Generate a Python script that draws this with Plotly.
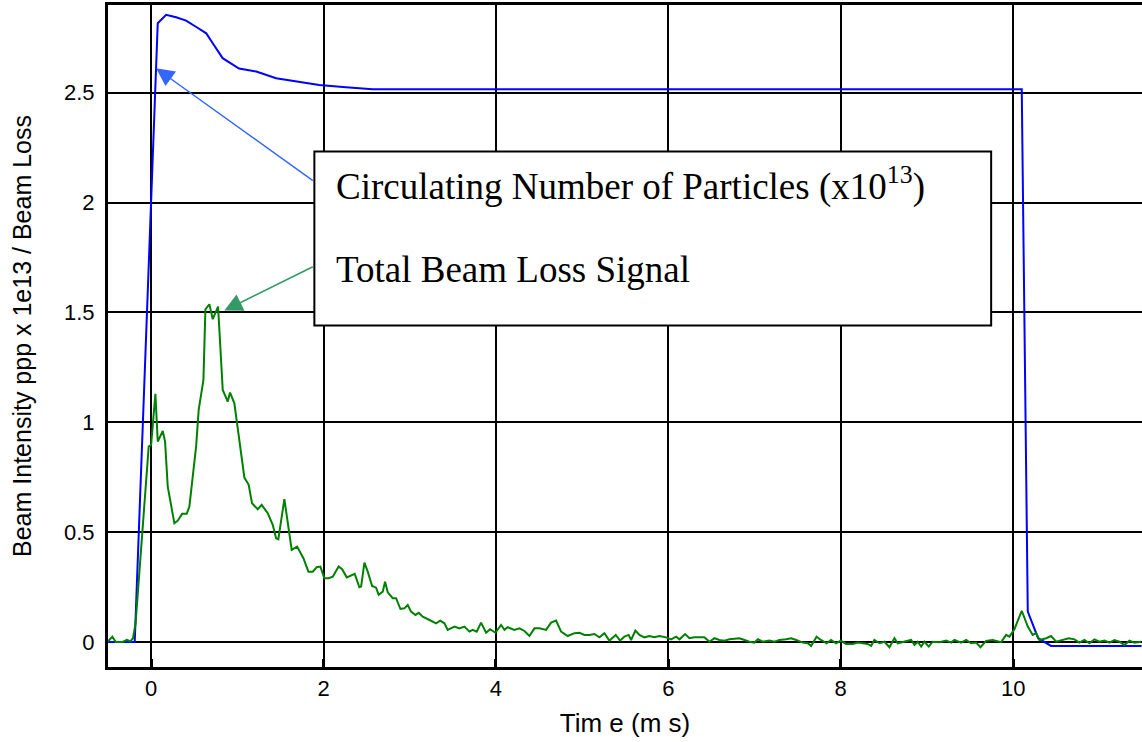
import plotly.graph_objects as go

# circulating number of particles (x1e13) vs time (ms)
blue_x = [-0.5, -0.19, 0.077, 0.174, 0.29, 0.406, 0.52, 0.64, 0.715, 0.83,
          1.02, 1.22, 1.45, 1.72, 1.95, 2.26, 2.57, 10.10, 10.17, 10.29,
          10.44, 11.49]
blue_y = [0, 0, 2.816, 2.854, 2.843, 2.828, 2.80, 2.77, 2.725, 2.657,
          2.61, 2.596, 2.566, 2.55, 2.535, 2.525, 2.516, 2.516, 0.138, 0.017,
          -0.018, -0.018]

# total beam loss signal
green_x = [-0.503, -0.45, -0.41, -0.33, -0.28, -0.24, -0.21, -0.18, -0.028, 0.0,
           0.05, 0.077, 0.135, 0.162, 0.193, 0.27, 0.309, 0.36, 0.413, 0.444,
           0.522, 0.552, 0.607, 0.63, 0.676, 0.715, 0.777, 0.831, 0.889, 0.916,
           0.966, 1.024, 1.082, 1.132, 1.171, 1.237, 1.283, 1.353, 1.411, 1.45,
           1.476, 1.546, 1.631, 1.694, 1.767, 1.825, 1.875, 1.921, 1.964, 2.01,
           2.06, 2.107, 2.176, 2.216, 2.27, 2.362, 2.416, 2.436, 2.475, 2.513,
           2.564, 2.61, 2.64, 2.687, 2.714, 2.745, 2.803, 2.842, 2.892, 2.938,
           2.977, 3.016, 3.066, 3.105, 3.151, 3.229, 3.306, 3.353, 3.403, 3.44,
           3.52, 3.577, 3.635, 3.693, 3.73, 3.777, 3.828, 3.886, 3.933, 3.994,
           4.06, 4.099, 4.137, 4.215, 4.273, 4.331, 4.389, 4.447, 4.505, 4.582,
           4.64, 4.698, 4.756, 4.833, 4.911, 4.969, 5.027, 5.085, 5.143, 5.201,
           5.259, 5.316, 5.39, 5.44, 5.49, 5.54, 5.568, 5.618, 5.665, 5.722,
           5.78, 5.838, 5.896, 5.974, 6.032, 6.09, 6.13, 6.195, 6.245, 6.303,
           6.419, 6.477, 6.535, 6.593, 6.651, 6.709, 6.825, 6.883, 6.94, 6.998,
           7.04, 7.095, 7.173, 7.23, 7.289, 7.367, 7.425, 7.483, 7.56, 7.617,
           7.656, 7.72, 7.77, 7.837, 7.888, 7.946, 8.0, 8.062, 8.14, 8.197,
           8.255, 8.313, 8.353, 8.39, 8.45, 8.507, 8.565, 8.623, 8.661, 8.739,
           8.817, 8.855, 8.893, 8.933, 8.971, 9.021, 9.067, 9.145, 9.223, 9.281,
           9.319, 9.397, 9.455, 9.513, 9.571, 9.621, 9.687, 9.763, 9.822, 9.861,
           9.919, 9.957, 10.015, 10.1, 10.17, 10.227, 10.267, 10.305, 10.383, 10.44,
           10.499, 10.575, 10.645, 10.711, 10.769, 10.827, 10.885, 10.943, 11.0, 11.06,
           11.118, 11.175, 11.233, 11.291, 11.349, 11.407, 11.485]
green_y = [0.0, 0.024, 0.0, 0.0, 0.01, 0.003, 0.017, 0.085, 0.889, 0.897,
           1.129, 0.912, 0.96, 0.912, 0.707, 0.54, 0.552, 0.583, 0.583, 0.616,
           0.889, 1.056, 1.193, 1.514, 1.537, 1.469, 1.526, 1.147, 1.094, 1.135,
           1.086, 0.919, 0.748, 0.715, 0.631, 0.604, 0.624, 0.586, 0.533, 0.472,
           0.467, 0.65, 0.419, 0.434, 0.381, 0.32, 0.32, 0.34, 0.343, 0.29,
           0.29, 0.297, 0.343, 0.331, 0.294, 0.31, 0.249, 0.252, 0.361, 0.32,
           0.255, 0.247, 0.214, 0.229, 0.274, 0.226, 0.199, 0.199, 0.15, 0.153,
           0.168, 0.138, 0.123, 0.133, 0.115, 0.1, 0.085, 0.097, 0.085, 0.055,
           0.07, 0.062, 0.07, 0.047, 0.055, 0.047, 0.088, 0.042, 0.058, 0.042,
           0.077, 0.055, 0.067, 0.055, 0.062, 0.05, 0.027, 0.062, 0.062, 0.055,
           0.088, 0.097, 0.047, 0.027, 0.04, 0.042, 0.032, 0.032, 0.036, 0.021,
           0.04, 0.006, 0.032, 0.006, 0.024, 0.032, 0.009, 0.052, 0.032, 0.021,
           0.027, 0.021, 0.027, 0.021, 0.012, 0.024, 0.012, 0.036, 0.017, 0.021,
           0.021, 0.001, 0.017, 0.009, 0.006, 0.012, 0.017, 0.009, 0.001, -0.003,
           0.012, 0.001, 0.006, 0.001, 0.009, 0.012, 0.017, 0.009, -0.003, -0.006,
           -0.018, 0.024, 0.009, -0.006, 0.009, -0.006, 0.006, -0.009, -0.009, -0.003,
           -0.006, -0.009, -0.018, 0.009, -0.006, 0.001, -0.024, 0.017, -0.006, 0.001,
           0.009, -0.014, 0.001, -0.021, 0.001, -0.021, 0.001, -0.001, 0.006, -0.003,
           0.009, -0.003, 0.009, -0.006, -0.003, -0.024, 0.005, 0.009, 0.005, -0.001,
           0.032, 0.024, 0.058, 0.142, 0.07, 0.032, 0.04, 0.009, 0.017, 0.027,
           0.001, 0.009, 0.017, 0.012, -0.003, 0.009, -0.006, 0.012, 0.001, 0.006,
           -0.003, 0.009, 0.001, -0.014, 0.006, -0.003, 0.001]

x_ticks = [0, 2, 4, 6, 8, 10]
y_ticks = [0, 0.5, 1, 1.5, 2, 2.5]
y_tick_text = ["0", "0.5", "1", "1.5", "2", "2.5"]

label_circ = "Circulating Number of Particles (x10<sup>13</sup>)"
label_loss = "Total Beam Loss Signal"

fig = go.Figure()

fig.add_trace(
    go.Scatter(
        x=blue_x,
        y=blue_y,
        mode="lines",
        line=dict(color="#0000ff", width=2),
        showlegend=False,
    )
)

fig.add_trace(
    go.Scatter(
        x=green_x,
        y=green_y,
        mode="lines",
        line=dict(color="#008000", width=2),
        showlegend=False,
    )
)

# label box
fig.add_shape(
    type="rect",
    x0=1.894, x1=9.745, y0=1.44, y1=2.232,
    xref="x", yref="y",
    line=dict(color="black", width=2),
    fillcolor="white",
    layer="above",
)

serif = dict(family="Liberation Serif, Times New Roman, serif", size=37, color="black")

fig.add_annotation(x=2.126, y=2.085, xref="x", yref="y", text=label_circ,
                   showarrow=False, xanchor="left", yanchor="middle", font=serif)
fig.add_annotation(x=2.126, y=1.693, xref="x", yref="y", text=label_loss,
                   showarrow=False, xanchor="left", yanchor="middle", font=serif)

# arrows from the box to the curves
fig.add_annotation(x=0.058, y=2.611, ax=1.894, ay=2.095, xref="x", yref="y",
                   axref="x", ayref="y", text="", showarrow=True,
                   arrowhead=2, arrowsize=2.4, arrowwidth=1.5, arrowcolor="#3366ff")
fig.add_annotation(x=0.85, y=1.508, ax=1.894, ay=1.711, xref="x", yref="y",
                   axref="x", ayref="y", text="", showarrow=True,
                   arrowhead=2, arrowsize=2.4, arrowwidth=1.5, arrowcolor="#339966")

sans = "Liberation Sans, Arial, sans-serif"

fig.update_layout(
    width=1142,
    height=742,
    paper_bgcolor="white",
    plot_bgcolor="white",
    margin=dict(l=108, r=0, t=5, b=75),
    font=dict(family=sans, color="black"),
    xaxis=dict(
        range=[-0.5, 11.495],
        tickvals=x_ticks,
        tickfont=dict(size=22),
        automargin=False,
        showgrid=True,
        gridcolor="black",
        gridwidth=2,
        zeroline=False,
        showline=True,
        linecolor="black",
        linewidth=3,
        mirror=True,
        ticks="inside",
        ticklen=8,
        tickwidth=3,
        tickcolor="black",
        title=dict(text="Tim e (m s)", font=dict(size=26), standoff=14),
    ),
    yaxis=dict(
        range=[-0.114, 2.899],
        tickvals=y_ticks,
        ticktext=y_tick_text,
        tickfont=dict(size=22),
        automargin=False,
        showgrid=True,
        gridcolor="black",
        gridwidth=2,
        zeroline=False,
        showline=True,
        linecolor="black",
        linewidth=3,
        ticks="",
        ticklabelstandoff=6,
        title=dict(text="Beam Intensity ppp x 1e13 / Beam Loss", font=dict(size=25), standoff=26),
    ),
)

fig.write_html(
    "out.html",
    config={"displayModeBar": False},
    post_script="document.body.style.margin='0';",
)
